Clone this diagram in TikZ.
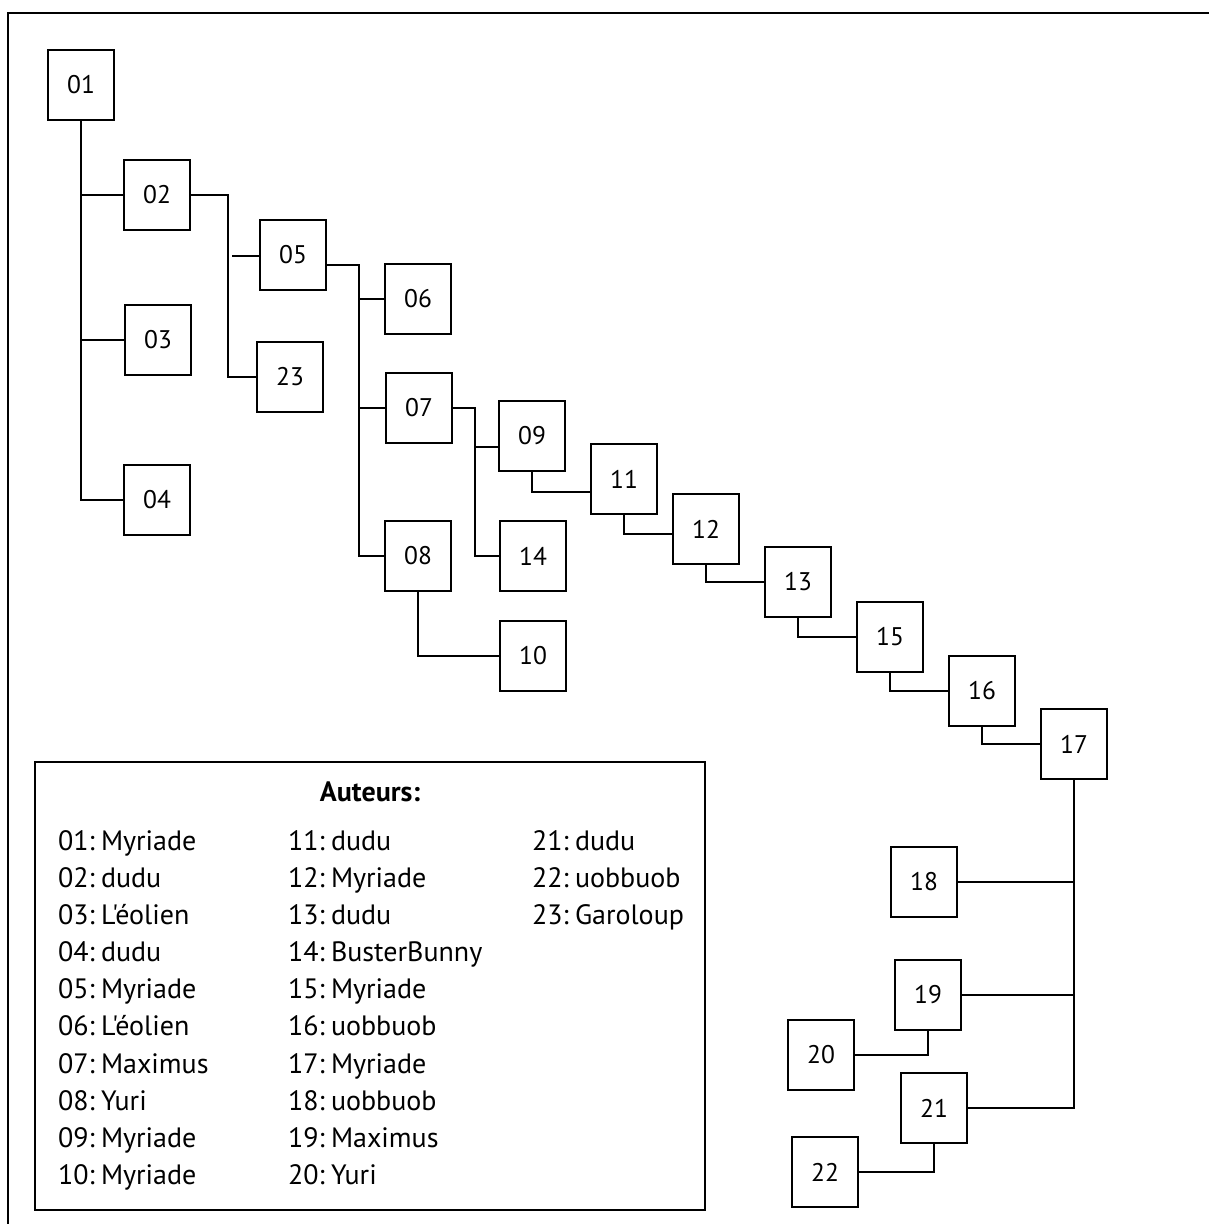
\documentclass[tikz,border=0pt]{standalone}
\usepackage{fontspec}
\newfontfamily\myfont{PT Sans}
\newcommand{\sep}{\hspace{0.22em}}
\begin{document}
\begin{tikzpicture}[x=1pt,y=-1pt,
  box/.style={draw,line width=1.8pt,minimum width=66pt,minimum height=70pt,inner sep=0pt,font=\myfont\fontsize{25.5}{28}\selectfont},
  conn/.style={line width=1.8pt},
  entry/.style={anchor=base west,inner sep=0pt,font=\myfont\fontsize{28}{32}\selectfont}]
\useasboundingbox (0,0) rectangle (1209,1224);
\draw[line width=2pt] (1209,13) -- (8,13) -- (8,1224);
% nodes
\node[box] (n01) at (81,85) {01};
\node[box] (n02) at (157,195) {02};
\node[box] (n03) at (158,340) {03};
\node[box] (n04) at (157,500) {04};
\node[box] (n05) at (293,255) {05};
\node[box] (n23) at (290,377) {23};
\node[box] (n06) at (418,299) {06};
\node[box] (n07) at (419,408) {07};
\node[box] (n08) at (418,556) {08};
\node[box] (n09) at (532,436) {09};
\node[box] (n14) at (533,556) {14};
\node[box] (n10) at (533,656) {10};
\node[box] (n11) at (624,479) {11};
\node[box] (n12) at (706,529) {12};
\node[box] (n13) at (798,582) {13};
\node[box] (n15) at (890,637) {15};
\node[box] (n16) at (982,691) {16};
\node[box] (n17) at (1074,744) {17};
\node[box] (n18) at (924,882) {18};
\node[box] (n19) at (928,995) {19};
\node[box] (n20) at (821,1055) {20};
\node[box] (n21) at (934,1108) {21};
\node[box] (n22) at (825,1172) {22};
% junction coordinates
\coordinate (v2) at (228,0);
\coordinate (j05) at (232,256);
\coordinate (v5) at (359,0);
\coordinate (v7) at (475,447);
% connectors
\draw[conn] (n01.south) |- (n04.west);
\draw[conn] (n01.south |- n02.west) -- (n02.west);
\draw[conn] (n01.south |- n03.west) -- (n03.west);
\draw[conn] (n02.east) -- (n02.east -| v2) |- (n23.west);
\draw[conn] (j05) -- (j05 -| n05.west);
\draw[conn] ([yshift=-10pt]n05.east) -| (v5 |- n08.west) -- (n08.west);
\draw[conn] (n06.west -| v5) -- (n06.west);
\draw[conn] (n07.west -| v5) -- (n07.west);
\draw[conn] (n07.east) -| (v7 |- n14.west) -- (n14.west);
\draw[conn] (v7) -- (v7 -| n09.west);
\draw[conn] (n08.south) |- (n10.west);
\draw[conn] (n09.south) |- ([yshift=-13pt]n11.west);
\draw[conn] (n11.south) |- ([yshift=-5pt]n12.west);
\draw[conn] (n12.south) |- (n13.west);
\draw[conn] (n13.south) |- (n15.west);
\draw[conn] (n15.south) |- (n16.west);
\draw[conn] (n16.south) |- (n17.west);
\draw[conn] (n17.south) |- (n21.east);
\draw[conn] (n18.east) -- (n18.east -| n17.south);
\draw[conn] (n19.east) -- (n19.east -| n17.south);
\draw[conn] (n19.south) |- (n20.east);
\draw[conn] (n21.south) |- (n22.east);
% legend
\node[draw,line width=1.8pt,minimum width=670pt,minimum height=448pt,inner sep=0pt] (leg) at (370,986) {};
\node[anchor=base,inner sep=0pt,font=\myfont\fontsize{28}{32}\selectfont\bfseries] (title) at (370,801) {Auteurs:};
\node[entry] (a01) at (58,850) {01:\sep Myriade};
\node[entry] (a02) at (58,887) {02:\sep dudu};
\node[entry] (a03) at (58,924) {03:\sep L'éolien};
\node[entry] (a04) at (58,961) {04:\sep dudu};
\node[entry] (a05) at (58,998) {05:\sep Myriade};
\node[entry] (a06) at (58,1035) {06:\sep L'éolien};
\node[entry] (a07) at (58,1073) {07:\sep Maximus};
\node[entry] (a08) at (58,1110) {08:\sep Yuri};
\node[entry] (a09) at (58,1147) {09:\sep Myriade};
\node[entry] (a10) at (58,1184) {10:\sep Myriade};
\node[entry] (a11) at (288,850) {11:\sep dudu};
\node[entry] (a12) at (288,887) {12:\sep Myriade};
\node[entry] (a13) at (288,924) {13:\sep dudu};
\node[entry] (a14) at (288,961) {14:\sep BusterBunny};
\node[entry] (a15) at (288,998) {15:\sep Myriade};
\node[entry] (a16) at (288,1035) {16:\sep uobbuob};
\node[entry] (a17) at (288,1073) {17:\sep Myriade};
\node[entry] (a18) at (288,1110) {18:\sep uobbuob};
\node[entry] (a19) at (288,1147) {19:\sep Maximus};
\node[entry] (a20) at (288,1184) {20:\sep Yuri};
\node[entry] (a21) at (532,850) {21:\sep dudu};
\node[entry] (a22) at (532,887) {22:\sep uobbuob};
\node[entry] (a23) at (532,924) {23:\sep Garoloup};
\end{tikzpicture}
\end{document}
